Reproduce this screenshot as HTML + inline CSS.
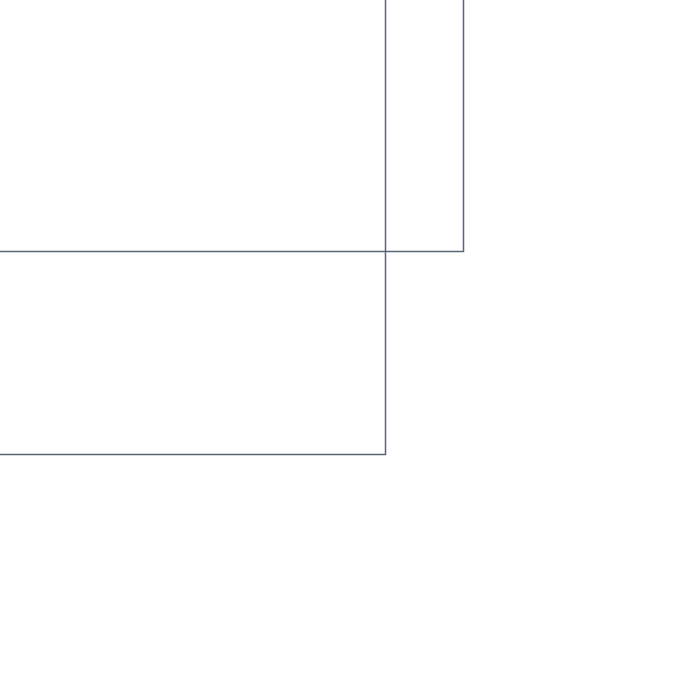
<!DOCTYPE html>
<html><head><meta charset="utf-8"><style>html,body{margin:0;padding:0;background:#fff;}svg{display:block}</style></head>
<body>
<svg width="678" height="678" viewBox="0 0 678 678" xmlns="http://www.w3.org/2000/svg">
<g fill="none" stroke="#5b6577" stroke-width="1.5">
<path d="M0 251.5 H463.5 V0"/>
<path d="M0 454.5 H385.5 V0"/>
</g>
</svg>
</body></html>
